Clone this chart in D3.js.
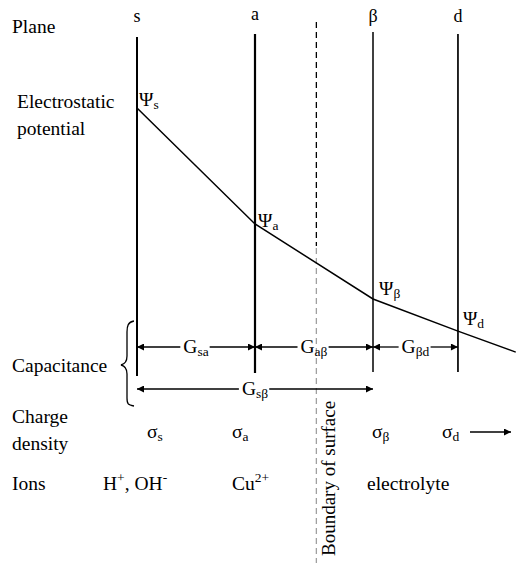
<!DOCTYPE html>
<html>
<head>
<meta charset="utf-8">
<script src="https://cdn.jsdelivr.net/npm/d3@7"></script>
<style>
  html, body { margin: 0; padding: 0; background: #fff; }
  svg { display: block; }
</style>
</head>
<body>
<svg id="chart" width="516" height="563" font-family="'Liberation Serif', 'DejaVu Serif', serif"></svg>
<script>
// ---- data ----
const planeNames = ["s", "a", "β", "d"];
const planeDist = [0, 1, 2, 2.72];           // distance from surface (relative units)
const boundaryDist = 1.52;                   // boundary of surface
const potentialDist = [0, 1, 2, 2.72, 3.21]; // points of potential profile
const potentialVals = [100, 60.3, 34.6, 23.6, 16.4];
const potentialSubs = ["s", "a", "β", "d"];
const capLabels = ["sa", "aβ", "βd", "sβ"];
const capFrom = [0, 1, 2, 0];
const capTo = [1, 2, 2.72, 2];
const capRow = [0, 0, 0, 1];
const chargeSubs = ["s", "a", "β", "d"];
const rowLabels = ["Plane", "Electrostatic", "potential", "Capacitance", "Charge", "density", "Ions"];

const svg = d3.select("#chart");
const x = d3.scaleLinear().domain([0, 1]).range([137, 255]);
const y = d3.scaleLinear().domain([0, 100]).range([400, 108]);
const FS = 19.5, SUB = 13.5;

// markers
const defs = svg.append("defs");
defs.append("marker").attr("id", "ah").attr("viewBox", "0 0 10 10")
  .attr("refX", 10).attr("refY", 5).attr("markerWidth", 10).attr("markerHeight", 7)
  .attr("markerUnits", "userSpaceOnUse").attr("orient", "auto-start-reverse")
  .append("path").attr("d", "M0,0 L10,5 L0,10 Z").attr("fill", "#000");

// left-side row labels
const rowY = [33, 108, 135, 372, 423, 450, 490];
const rowX = [12, 17, 17, 12, 12, 12, 12];
svg.selectAll("text.row").data(rowLabels).join("text").attr("class", "row")
  .attr("x", (d, i) => rowX[i]).attr("y", (d, i) => rowY[i])
  .attr("font-size", FS).text(d => d);

// plane names
const planeTop = [37, 34, 32, 34];
const planeBot = [376, 373, 372, 372];
const planeW = [2, 2.2, 1.5, 1.7];
svg.selectAll("text.pname").data(planeNames).join("text").attr("class", "pname")
  .attr("x", (d, i) => x(planeDist[i])).attr("y", (d, i) => i === 1 ? 20 : 22)
  .attr("text-anchor", "middle").attr("font-size", 18).text(d => d);

// plane lines
svg.selectAll("line.plane").data(planeDist).join("line").attr("class", "plane")
  .attr("x1", d => x(d)).attr("x2", d => x(d))
  .attr("y1", (d, i) => planeTop[i]).attr("y2", (d, i) => planeBot[i])
  .attr("stroke", "#000").attr("stroke-width", (d, i) => planeW[i]);

// boundary (dashed)
const bx = x(boundaryDist);
svg.append("line").attr("x1", bx).attr("x2", bx).attr("y1", 22).attr("y2", 246)
  .attr("stroke", "#000").attr("stroke-width", 1.3).attr("stroke-dasharray", "6,4");
svg.append("line").attr("x1", bx).attr("x2", bx).attr("y1", 248).attr("y2", 563)
  .attr("stroke", "#a0a0a0").attr("stroke-width", 1.3).attr("stroke-dasharray", "6,4");
svg.append("text").attr("transform", `translate(${bx + 19},556) rotate(-90)`)
  .attr("font-size", 19).text("Boundary of surface");

// potential profile
const pts = potentialDist.map((d, i) => [x(d), y(potentialVals[i])]);
svg.append("path").attr("d", d3.line()(pts)).attr("fill", "none")
  .attr("stroke", "#000").attr("stroke-width", 1.5);

const psiDx = [2, 3, 6, 5];
const psiDy = [-2, 3, -4, -6];
potentialSubs.forEach((s, i) => {
  const t = svg.append("text").attr("x", pts[i][0] + psiDx[i]).attr("y", pts[i][1] + psiDy[i])
    .attr("font-size", FS);
  t.append("tspan").text("Ψ");
  t.append("tspan").attr("font-size", SUB).attr("dy", 3).text(s);
});

// capacitance arrows
const capY = [347, 389];
capLabels.forEach((lab, i) => {
  const x1 = x(capFrom[i]), x2 = x(capTo[i]);
  const yy = capY[capRow[i]];
  const mid = (x1 + x2) / 2;
  const t = svg.append("text").attr("x", mid).attr("y", yy + 6).attr("text-anchor", "middle")
    .attr("font-size", FS);
  t.append("tspan").text("G");
  t.append("tspan").attr("font-size", SUB).attr("dy", 3).text(lab);
  const bb = t.node().getBBox();
  svg.append("line").attr("x1", bb.x - 3).attr("x2", x1).attr("y1", yy).attr("y2", yy)
    .attr("stroke", "#000").attr("stroke-width", 1.3).attr("marker-end", "url(#ah)");
  svg.append("line").attr("x1", bb.x + bb.width + 1).attr("x2", x2).attr("y1", yy).attr("y2", yy)
    .attr("stroke", "#000").attr("stroke-width", 1.3).attr("marker-end", "url(#ah)");
});

// brace
svg.append("path")
  .attr("d", "M134,321 C128,322 127,326 127,332 L127,356 C127,362 125,364 121,365 C125,366 127,368 127,374 L127,398 C127,404 128,405 134,406")
  .attr("fill", "none").attr("stroke", "#000").attr("stroke-width", 1.3);

// charge density
const chargeX = [147, 232, 372, 442];
chargeSubs.forEach((s, i) => {
  const t = svg.append("text").attr("x", chargeX[i]).attr("y", 438).attr("font-size", FS);
  t.append("tspan").text("σ");
  t.append("tspan").attr("font-size", SUB).attr("dy", 3).text(s);
});
svg.append("line").attr("x1", 470).attr("x2", 511).attr("y1", 432).attr("y2", 432)
  .attr("stroke", "#000").attr("stroke-width", 1.3).attr("marker-end", "url(#ah)");

// ions
const t1 = svg.append("text").attr("x", 103).attr("y", 490).attr("font-size", FS);
t1.append("tspan").text("H");
t1.append("tspan").attr("font-size", SUB).attr("dy", -8).text("+");
t1.append("tspan").attr("dy", 8).text(", OH");
t1.append("tspan").attr("font-size", SUB).attr("dy", -8).text("-");
const t2 = svg.append("text").attr("x", 232).attr("y", 490).attr("font-size", FS);
t2.append("tspan").text("Cu");
t2.append("tspan").attr("font-size", SUB).attr("dy", -8).text("2+");
svg.append("text").attr("x", 367).attr("y", 490).attr("font-size", FS).text("electrolyte");
</script>
</body>
</html>
